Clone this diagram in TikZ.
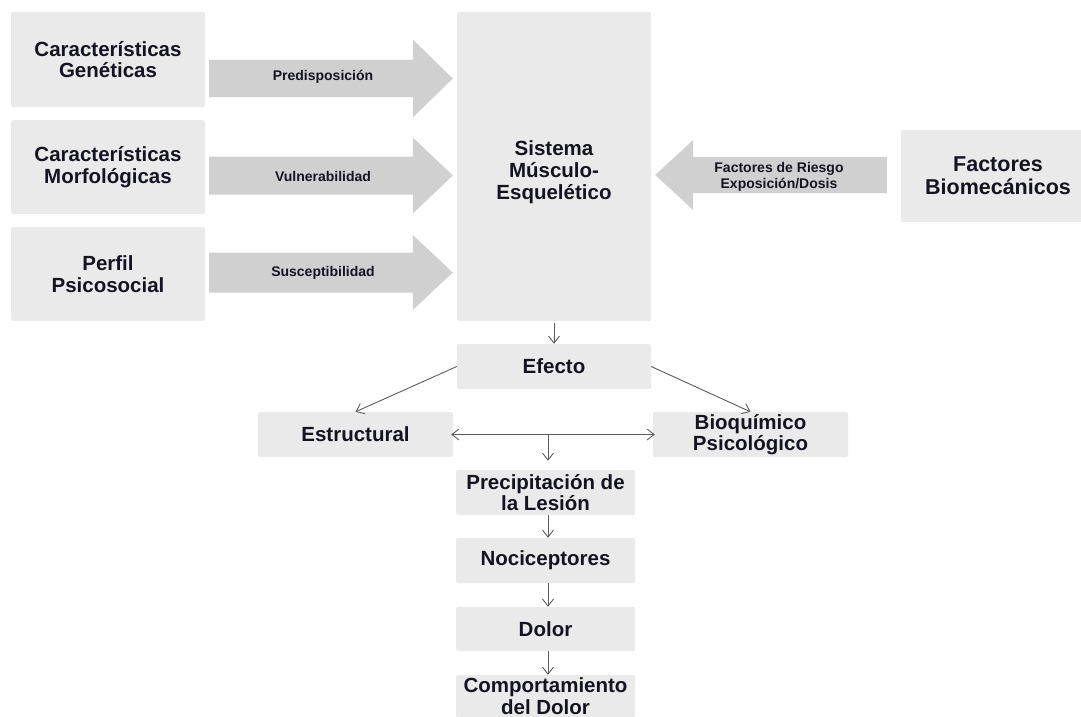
\documentclass[tikz,border=0pt]{standalone}
\usepackage{fontspec}
\setmainfont{Liberation Sans}
\usetikzlibrary{arrows.meta,calc}
\definecolor{boxgray}{HTML}{EAEAEA}
\definecolor{bandgray}{HTML}{D0D0D0}
\definecolor{linegray}{HTML}{5C5C5C}
\definecolor{ink}{HTML}{141420}

% wide block arrow: #1 tail, #2 tip, #3 half body width, #4 half head width, #5 head length (signed)
\newcommand\bandarrow[5]{%
  \fill[bandgray] ($(#1)+(0,-#3)$) -- ($(#2)+(-#5,-#3)$) -- ($(#2)+(-#5,-#4)$)
    -- (#2) -- ($(#2)+(-#5,#4)$) -- ($(#2)+(-#5,#3)$) -- ($(#1)+(0,#3)$) -- cycle;}

\begin{document}
\begin{tikzpicture}[x=1pt,y=-1pt,
  box/.style={fill=boxgray, rounded corners=2pt, align=center, inner sep=0pt,
    text=ink, font=\bfseries\fontsize{20.5}{21.5}\selectfont},
  bigbox/.style={box, font=\bfseries\fontsize{21.5}{23}\selectfont},
  caption/.style={align=center, inner sep=0pt, text=ink,
    font=\bfseries\fontsize{20.5}{22}\selectfont},
  flow/.style={draw=linegray, line width=0.9pt,
    -{Straight Barb[length=7pt,width=11pt]}},
  twoway/.style={draw=linegray, line width=0.9pt,
    {Straight Barb[length=7pt,width=11pt]}-{Straight Barb[length=7pt,width=11pt]}},
  tag/.style={font=\bfseries\fontsize{14}{16}\selectfont, text=ink, align=center, inner sep=0pt}]

\useasboundingbox (0,0) rectangle (1081,717);

% factors on the left
\node[box, minimum width=194, minimum height=95] (gen) at (108,59.5) {Características\\Genéticas};
\node[box, minimum width=194, minimum height=94] (mor) at (108,167) {Características\\Morfológicas};
\node[box, minimum width=194, minimum height=94] (psi) at (108,274) {Perfil\\Psicosocial};

% central system
\node[box, minimum width=194, minimum height=309] (sme) at (554,166.5) {};
\node[caption] (smeT) at (554,172) {Sistema\\Músculo-\\Esquelético};

% biomechanical factors
\node[bigbox, minimum width=194, minimum height=92] (bio) at (998,176) {Factores\\Biomecánicos};

% wide block arrows into the system
\coordinate (tA) at ([xshift=4]gen.east |- 0,78.5);
\coordinate (hA) at ([xshift=-4]sme.west |- 0,78.5);
\coordinate (tB) at ([xshift=4]mor.east |- 0,175.5);
\coordinate (hB) at ([xshift=-4]sme.west |- 0,175.5);
\coordinate (tC) at ([xshift=4]psi.east |- 0,272.5);
\coordinate (hC) at ([xshift=-4]sme.west |- 0,272.5);
\coordinate (tD) at ([xshift=-14]bio.west |- 0,175);
\coordinate (hD) at ([xshift=4]sme.east |- 0,175);
\bandarrow{tA}{hA}{18.5}{39}{40}
\bandarrow{tB}{hB}{19}{38}{40}
\bandarrow{tC}{hC}{20}{37.5}{40}
\bandarrow{tD}{hD}{18}{35}{-38}

\node[tag] (lA) at (323,77) {Predisposición};
\node[tag] (lB) at (323,176) {Vulnerabilidad};
\node[tag] (lC) at (323,273) {Susceptibilidad};
\node[tag] (lD) at (779,177) {Factores de Riesgo\\Exposición/Dosis};

% effect branch
\node[box, minimum width=194, minimum height=45] (efe) at (554,366.5) {Efecto};
\node[box, minimum width=195, minimum height=45] (est) at (355.5,434.5) {Estructural};
\node[box, minimum width=195, minimum height=45] (bq) at (750.5,434.5) {Bioquímico\\Psicológico};

% chain towards pain behaviour
\node[box, minimum width=179, minimum height=45] (pre) at (545.5,492.5) {Precipitación de\\la Lesión};
\node[box, minimum width=179, minimum height=45] (noc) at (545.5,560.5) {Nociceptores};
\node[box, minimum width=179, minimum height=44] (dol) at (545.5,629) {Dolor};
\node[box, minimum width=179, minimum height=42] (com) at (545.5,696) {Comportamiento\\del Dolor};

% connectors
\draw[flow] (sme.south) ++(0,2) -- (efe.north);
\draw[flow] (efe.west) -- (est.north);
\draw[flow] (efe.east) -- (bq.north);
\draw[twoway] ([xshift=-2pt]est.east) -- ([xshift=2pt]bq.west);
\coordinate (mid) at (548,434.5);
\draw[flow] (mid) -- ([yshift=9pt]mid |- pre.north);
\draw[flow] (pre.south -| mid) -- (noc.north -| mid);
\draw[flow] (noc.south -| mid) -- (dol.north -| mid);
\draw[flow] (dol.south -| mid) -- (com.north -| mid);
\end{tikzpicture}
\end{document}
